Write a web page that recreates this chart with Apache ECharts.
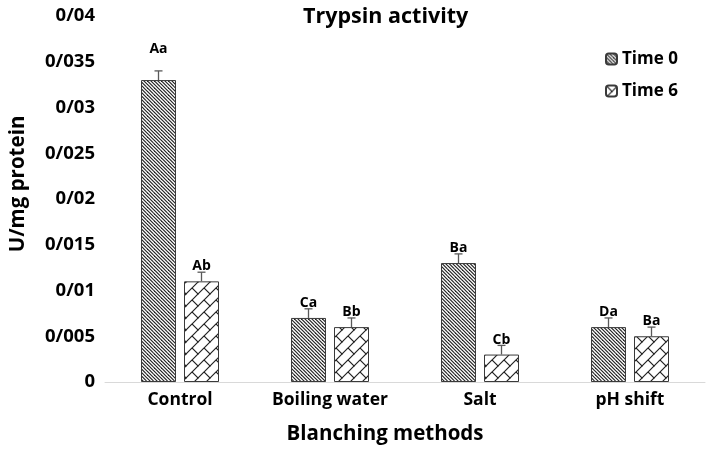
<!DOCTYPE html>
<html>
<head>
<meta charset="utf-8">
<script src="https://cdn.jsdelivr.net/npm/echarts@6/dist/echarts.min.js"></script>
<style>html,body{margin:0;padding:0;background:#fff}#c{width:709px;height:451px}</style>
</head>
<body>
<div id="c"></div>
<script>
// ---- data ----
const categories = ['Control', 'Boiling water', 'Salt', 'pH shift'];
const seriesNames = ['Time 0', 'Time 6'];
const time0 = [0.033, 0.007, 0.013, 0.006];
const time6 = [0.011, 0.006, 0.003, 0.005];
const err0 = [0.001, 0.001, 0.001, 0.001];
const err6 = [0.001, 0.001, 0.001, 0.001];
const letters0 = ['Aa', 'Ca', 'Ba', 'Da'];
const letters6 = ['Ab', 'Bb', 'Cb', 'Ba'];
const labelAt0 = [0.0348, 0.007, 0.013, 0.006];
const labelAt6 = [0.011, 0.006, 0.003, 0.005];
const yTickLabels = ['0', '0/005', '0/01', '0/015', '0/02', '0/025', '0/03', '0/035', '0/04'];

// ---- patterns ----
function hatchPattern() {
  const s = 7, c = document.createElement('canvas');
  c.width = s; c.height = s;
  const g = c.getContext('2d');
  g.fillStyle = '#fff'; g.fillRect(0, 0, s, s);
  g.strokeStyle = '#222'; g.lineWidth = 1.15;
  for (let k = -14; k <= 14; k += 3.5) {
    g.beginPath(); g.moveTo(k - 1, -1); g.lineTo(k + s + 1, s + 1); g.stroke();
  }
  return c;
}
function brickPattern() {
  const s = 12, c = document.createElement('canvas');
  c.width = s; c.height = s;
  const g = c.getContext('2d');
  g.fillStyle = '#fff'; g.fillRect(0, 0, s, s);
  g.strokeStyle = '#222'; g.lineWidth = 1.2; g.lineCap = 'square';
  g.beginPath(); g.moveTo(-1, s + 1); g.lineTo(s + 1, -1); g.stroke();
  g.beginPath(); g.moveTo(-2, 2); g.lineTo(2, -2); g.stroke();
  g.beginPath(); g.moveTo(s - 2, s + 2); g.lineTo(s + 2, s - 2); g.stroke();
  g.beginPath(); g.moveTo(0, 0); g.lineTo(s / 2, s / 2); g.stroke();
  g.beginPath(); g.moveTo(s, 0); g.lineTo(s + s / 2, s / 2); g.stroke();
  return c;
}
const fills = [{ image: hatchPattern(), repeat: 'repeat' }, { image: brickPattern(), repeat: 'repeat' }];

const FONT = '"Open Sans", "Liberation Sans", sans-serif';
const BAR_W = 35, BAR_GAP = 8;

function errSeries(idx, vals, errs, letters, labelAt) {
  const off = (idx === 0 ? -1 : 1) * (BAR_W + BAR_GAP) / 2;
  return {
    type: 'custom',
    name: seriesNames[idx] + ' err',
    z: 5,
    silent: true,
    data: vals.map((v, i) => [i, v, errs[i], labelAt[i]]),
    renderItem: function (params, api) {
      const i = api.value(0);
      const b = api.coord([i, api.value(1)]);
      const t = api.coord([i, api.value(1) + api.value(2)]);
      const l = api.coord([i, api.value(3)]);
      const x = b[0] + off;
      return {
        type: 'group',
        children: [
          { type: 'line', shape: { x1: x, y1: b[1], x2: x, y2: t[1] }, style: { stroke: '#595959', lineWidth: 1.3 } },
          { type: 'line', shape: { x1: x - 4, y1: t[1], x2: x + 4, y2: t[1] }, style: { stroke: '#595959', lineWidth: 1.3 } },
          { type: 'text', style: { text: letters[i], x: x, y: l[1] - 8, textAlign: 'center', textVerticalAlign: 'bottom', font: 'bold 14px ' + FONT, fill: '#000' } }
        ]
      };
    }
  };
}

const chart = echarts.init(document.getElementById('c'), null, { renderer: 'canvas' });
chart.setOption({
  animation: false,
  backgroundColor: '#fff',
  title: {
    text: 'Trypsin activity',
    left: 298, top: 1,
    textStyle: { fontFamily: FONT, fontWeight: 'bold', fontSize: 21.5, color: '#000' }
  },
  legend: {
    data: seriesNames,
    orient: 'vertical',
    left: 600, top: 44,
    itemWidth: 11, itemHeight: 11, itemGap: 12,
    textStyle: { fontFamily: FONT, fontWeight: 'bold', fontSize: 17, color: '#000', lineHeight: 20 }
  },
  grid: { left: 103, right: 4, top: 16, bottom: 69, containLabel: false },
  xAxis: {
    type: 'category',
    data: categories,
    name: 'Blanching methods',
    nameLocation: 'middle',
    nameGap: 42,
    nameTextStyle: { fontFamily: FONT, fontWeight: 'bold', fontSize: 20.5, color: '#000', padding: [0, 40, 0, 0] },
    axisLine: { lineStyle: { color: '#d9d9d9', width: 1 } },
    axisTick: { show: false },
    axisLabel: { interval: 0, hideOverlap: false, fontFamily: FONT, fontWeight: 'bold', fontSize: 17.5, color: '#000', margin: 9 }
  },
  yAxis: {
    type: 'value',
    min: 0, max: 0.04, interval: 0.005,
    name: 'U/mg protein',
    nameLocation: 'middle',
    nameGap: 76,
    nameTextStyle: { fontFamily: FONT, fontWeight: 'bold', fontSize: 20.5, color: '#000', padding: [0, 0, 0, 30] },
    axisLine: { show: false },
    axisTick: { show: false },
    splitLine: { show: false },
    axisLabel: {
      fontFamily: FONT, fontWeight: 'bold', fontSize: 18.5, color: '#000', margin: 10,
      formatter: v => yTickLabels[Math.round(v / 0.005)]
    }
  },
  series: [
    { type: 'bar', name: seriesNames[0], data: time0, barWidth: BAR_W, barGap: (BAR_GAP / BAR_W * 100) + '%',
      itemStyle: { color: fills[0], borderColor: '#3a3a3a', borderWidth: 1 } },
    { type: 'bar', name: seriesNames[1], data: time6, barWidth: BAR_W,
      itemStyle: { color: fills[1], borderColor: '#3a3a3a', borderWidth: 1 } },
    errSeries(0, time0, err0, letters0, labelAt0),
    errSeries(1, time6, err6, letters6, labelAt6)
  ]
});
</script>
</body>
</html>
